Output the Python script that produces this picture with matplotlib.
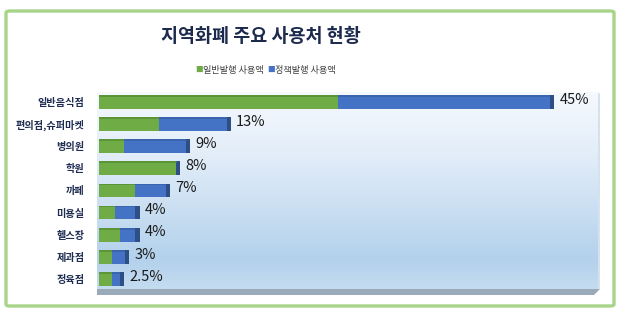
import matplotlib
matplotlib.use("Agg")
import matplotlib.pyplot as plt
import numpy as np
from matplotlib.patches import FancyBboxPatch, Polygon
from matplotlib.colors import LinearSegmentedColormap

plt.rcParams['font.family'] = ['Noto Sans CJK KR', 'DejaVu Sans']

categories = ['일반음식점', '편의점,슈퍼마켓', '병의원', '학원', '까페', '미용실', '헬스장', '제과점', '정육점']
general = [23.6, 5.9, 2.5, 7.7, 3.6, 1.6, 2.1, 1.3, 1.3]
totals = [45, 13, 9, 8, 7, 4, 4, 3, 2.5]
policy = [t - g for t, g in zip(totals, general)]
value_labels = ['45%', '13%', '9%', '8%', '7%', '4%', '4%', '3%', '2.5%']
series_names = ['일반발행 사용액', '정책발행 사용액']

W, H = 621, 313
fig = plt.figure(figsize=(W / 100, H / 100), dpi=100)
fig.patch.set_facecolor('white')

# outer rounded border
border = FancyBboxPatch((6 / W, 7 / H), 608 / W, 295 / H,
                        boxstyle="round,pad=0,rounding_size=0.006",
                        transform=fig.transFigure, facecolor='white',
                        edgecolor='#A8D48A', linewidth=2.4, zorder=-5)
fig.patches.append(border)

x0, x1 = 97, 598
ytop, ybot = 92, 289
ax = fig.add_axes([x0 / W, 1 - ybot / H, (x1 - x0) / W, (ybot - ytop) / H])
ax.set_zorder(2)
xmax = 49.3
n = len(categories)
ax.set_xlim(-0.2, xmax)
ax.set_ylim(n - 1 + 0.45, -0.44)

# gradient background
grad = np.linspace(0, 1, 256).reshape(-1, 1)
cmap = LinearSegmentedColormap.from_list('bg', [(0, '#F6F9FE'), (0.35, '#E0ECF8'),
                                                (0.85, '#B3D1EC'), (1.0, '#C4DCF0')])
ax.imshow(grad, aspect='auto', cmap=cmap, extent=[-0.2, xmax, n - 1 + 0.45, -0.44],
          zorder=0)

y = np.arange(n)
h = 0.62
green = '#6FAC46'
blue = '#4472C4'
ax.barh(y, general, height=h, color=green, zorder=2)
ax.barh(y, policy, left=general, height=h, color=blue, zorder=2)
# 3D end caps
cap = 0.4
ax.barh(y, [cap] * n, left=[t - cap for t in totals], height=h, color='#2E4E86', zorder=3)
# top face edge
ax.barh(y - h / 2 + 0.04, general, height=0.08, color='#5C9538', zorder=3)
ax.barh(y - h / 2 + 0.04, [p - cap for p in policy], left=general, height=0.08, color='#3A64AE', zorder=3)

for yi, t, lab in zip(y, totals, value_labels):
    ax.text(t + 0.55, yi - 0.1, lab, va='center', ha='left', fontsize=10.5, color='#1a1a1a', zorder=4)

ax.set_yticks(y)
ax.set_yticklabels(categories, fontsize=7.3, fontweight='bold', color='#1F2D52')
ax.tick_params(axis='y', length=0, pad=9)
ax.set_xticks([])
for s in ax.spines.values():
    s.set_visible(False)

# floor
floor = Polygon([(x0 / W, 1 - 289 / H), (600 / W, 1 - 289 / H), (594 / W, 1 - 295 / H),
                 (x0 / W, 1 - 295 / H)], closed=True, transform=fig.transFigure,
                facecolor='#9AAAB8', edgecolor='none', zorder=1)
fig.patches.append(floor)
# right side shadow of wall
wall = Polygon([(598 / W, 1 - 92 / H), (600 / W, 1 - 94 / H), (600 / W, 1 - 289 / H),
                (598 / W, 1 - 289 / H)], closed=True, transform=fig.transFigure,
               facecolor='#D5E2EE', edgecolor='none', zorder=1)
fig.patches.append(wall)

fig.text(261 / W, 1 - 36 / H, '지역화폐 주요 사용처 현황', ha='center', va='center',
         fontsize=13.3, fontweight='bold', color='#1C2A4E')

# legend
ly = 1 - 70 / H
fig.text(195 / W, ly, '■', color=green, fontsize=5.5, ha='left', va='center')
fig.text(203 / W, ly, series_names[0], color='#404040', fontsize=6.6, ha='left', va='center')
fig.text(267 / W, ly, '■', color=blue, fontsize=5.5, ha='left', va='center')
fig.text(275 / W, ly, series_names[1], color='#404040', fontsize=6.6, ha='left', va='center')

fig.savefig('out.png', dpi=100, facecolor='white')
